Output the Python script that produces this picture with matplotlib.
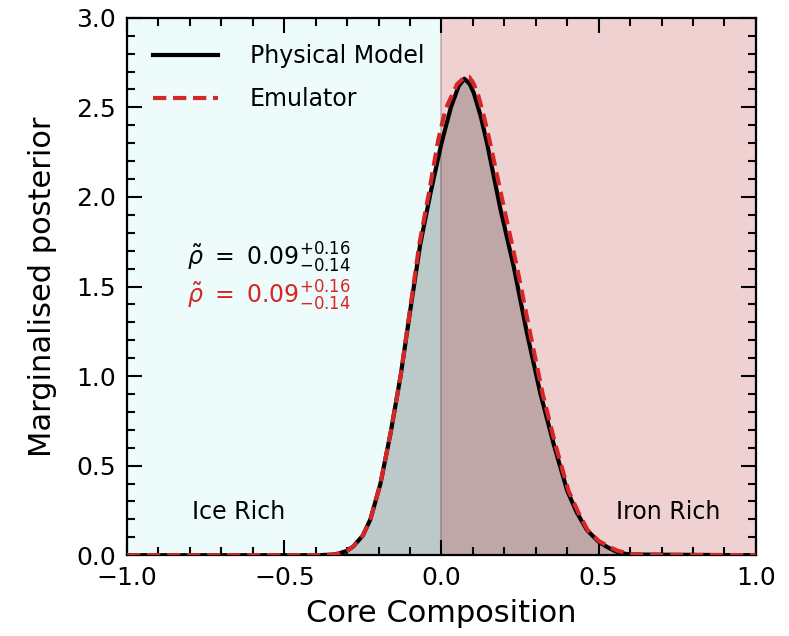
import numpy as np
import matplotlib
matplotlib.use("Agg")
import matplotlib.pyplot as plt
from matplotlib.ticker import MultipleLocator

# Physical model posterior
phys_x = [-1.0, -0.40, -0.35, -0.33, -0.30, -0.28, -0.25, -0.226, -0.194, -0.162, -0.13,
          -0.099, -0.067, -0.035, 0.0, 0.03, 0.055, 0.073, 0.09, 0.103, 0.125, 0.145,
          0.188, 0.23, 0.272, 0.315, 0.357, 0.40, 0.43, 0.463, 0.50, 0.527, 0.55, 0.57,
          0.60, 1.0]
phys_y = [0.0, 0.0, 0.003, 0.008, 0.025, 0.05, 0.11, 0.20, 0.40, 0.68, 1.00,
          1.37, 1.74, 2.02, 2.30, 2.50, 2.62, 2.66, 2.63, 2.58, 2.45, 2.30,
          1.93, 1.61, 1.24, 0.90, 0.62, 0.36, 0.24, 0.14, 0.075, 0.046, 0.025, 0.012,
          0.004, 0.0]

# Emulator posterior
emu_x = [-1.0, -0.40, -0.35, -0.33, -0.30, -0.28, -0.25, -0.226, -0.194, -0.162, -0.13,
         -0.10, -0.07, -0.04, -0.01, 0.013, 0.05, 0.075, 0.088, 0.10, 0.115, 0.135, 0.155,
         0.20, 0.24, 0.282, 0.322, 0.362, 0.404, 0.435, 0.465, 0.50, 0.53, 0.56, 0.60,
         0.63, 1.0]
emu_y = [0.0, 0.0, 0.003, 0.008, 0.025, 0.05, 0.11, 0.20, 0.40, 0.68, 1.00,
         1.37, 1.74, 2.02, 2.32, 2.49, 2.63, 2.67, 2.67, 2.64, 2.58, 2.45, 2.30,
         1.93, 1.61, 1.24, 0.90, 0.62, 0.36, 0.24, 0.14, 0.08, 0.05, 0.025, 0.008,
         0.002, 0.0]

median_text = r'$\tilde{\rho}\ =\ 0.09^{+0.16}_{-0.14}$'

plt.rcParams['font.family'] = ['DejaVu Sans']
fig = plt.figure(figsize=(7.89, 6.36), dpi=100)
ax = fig.add_axes([0.161, 0.127, 0.797, 0.845])

ax.axvspan(-1.0, 0.0, color='#edfbfb', zorder=0, lw=0)
ax.axvspan(0.0, 1.0, color='#f0d1d1', zorder=0, lw=0)
ax.axvline(0.0, color='#a08888', lw=1.2, alpha=0.6, zorder=1)

ax.fill_between(phys_x, phys_y, 0, color='black', alpha=0.2, lw=0, zorder=2)
ax.plot(phys_x, phys_y, color='black', lw=3, label='Physical Model', zorder=3)
ax.plot(emu_x, emu_y, color='#d62728', lw=3, ls=(0, (3.2, 1.6)), label='Emulator', zorder=4)

ax.set_xlim(-1.0, 1.0)
ax.set_ylim(0.0, 3.0)
ax.xaxis.set_major_locator(MultipleLocator(0.5))
ax.xaxis.set_minor_locator(MultipleLocator(0.1))
ax.yaxis.set_major_locator(MultipleLocator(0.5))
ax.yaxis.set_minor_locator(MultipleLocator(0.1))
ax.tick_params(which='both', direction='in', top=True, right=True, width=1.5)
ax.tick_params(which='major', length=11, labelsize=18, pad=8)
ax.tick_params(which='minor', length=5.5)
for s in ax.spines.values():
    s.set_linewidth(1.6)

ax.set_xlabel('Core Composition', fontsize=22, labelpad=6)
ax.set_ylabel('Marginalised posterior', fontsize=22, labelpad=14)

leg = ax.legend(loc='upper left', frameon=False, fontsize=17, handlelength=2.75,
                handletextpad=1.35, labelspacing=0.82, borderaxespad=0.7)

ax.text(-0.81, 1.66, median_text, color='black', fontsize=17, va='center', ha='left')
ax.text(-0.81, 1.45, median_text, color='#d62728', fontsize=17, va='center', ha='left')

ax.text(-0.645, 0.24, 'Ice Rich', fontsize=17, ha='center', va='center')
ax.text(0.72, 0.24, 'Iron Rich', fontsize=17, ha='center', va='center')

fig.savefig('out.png', dpi=100)
